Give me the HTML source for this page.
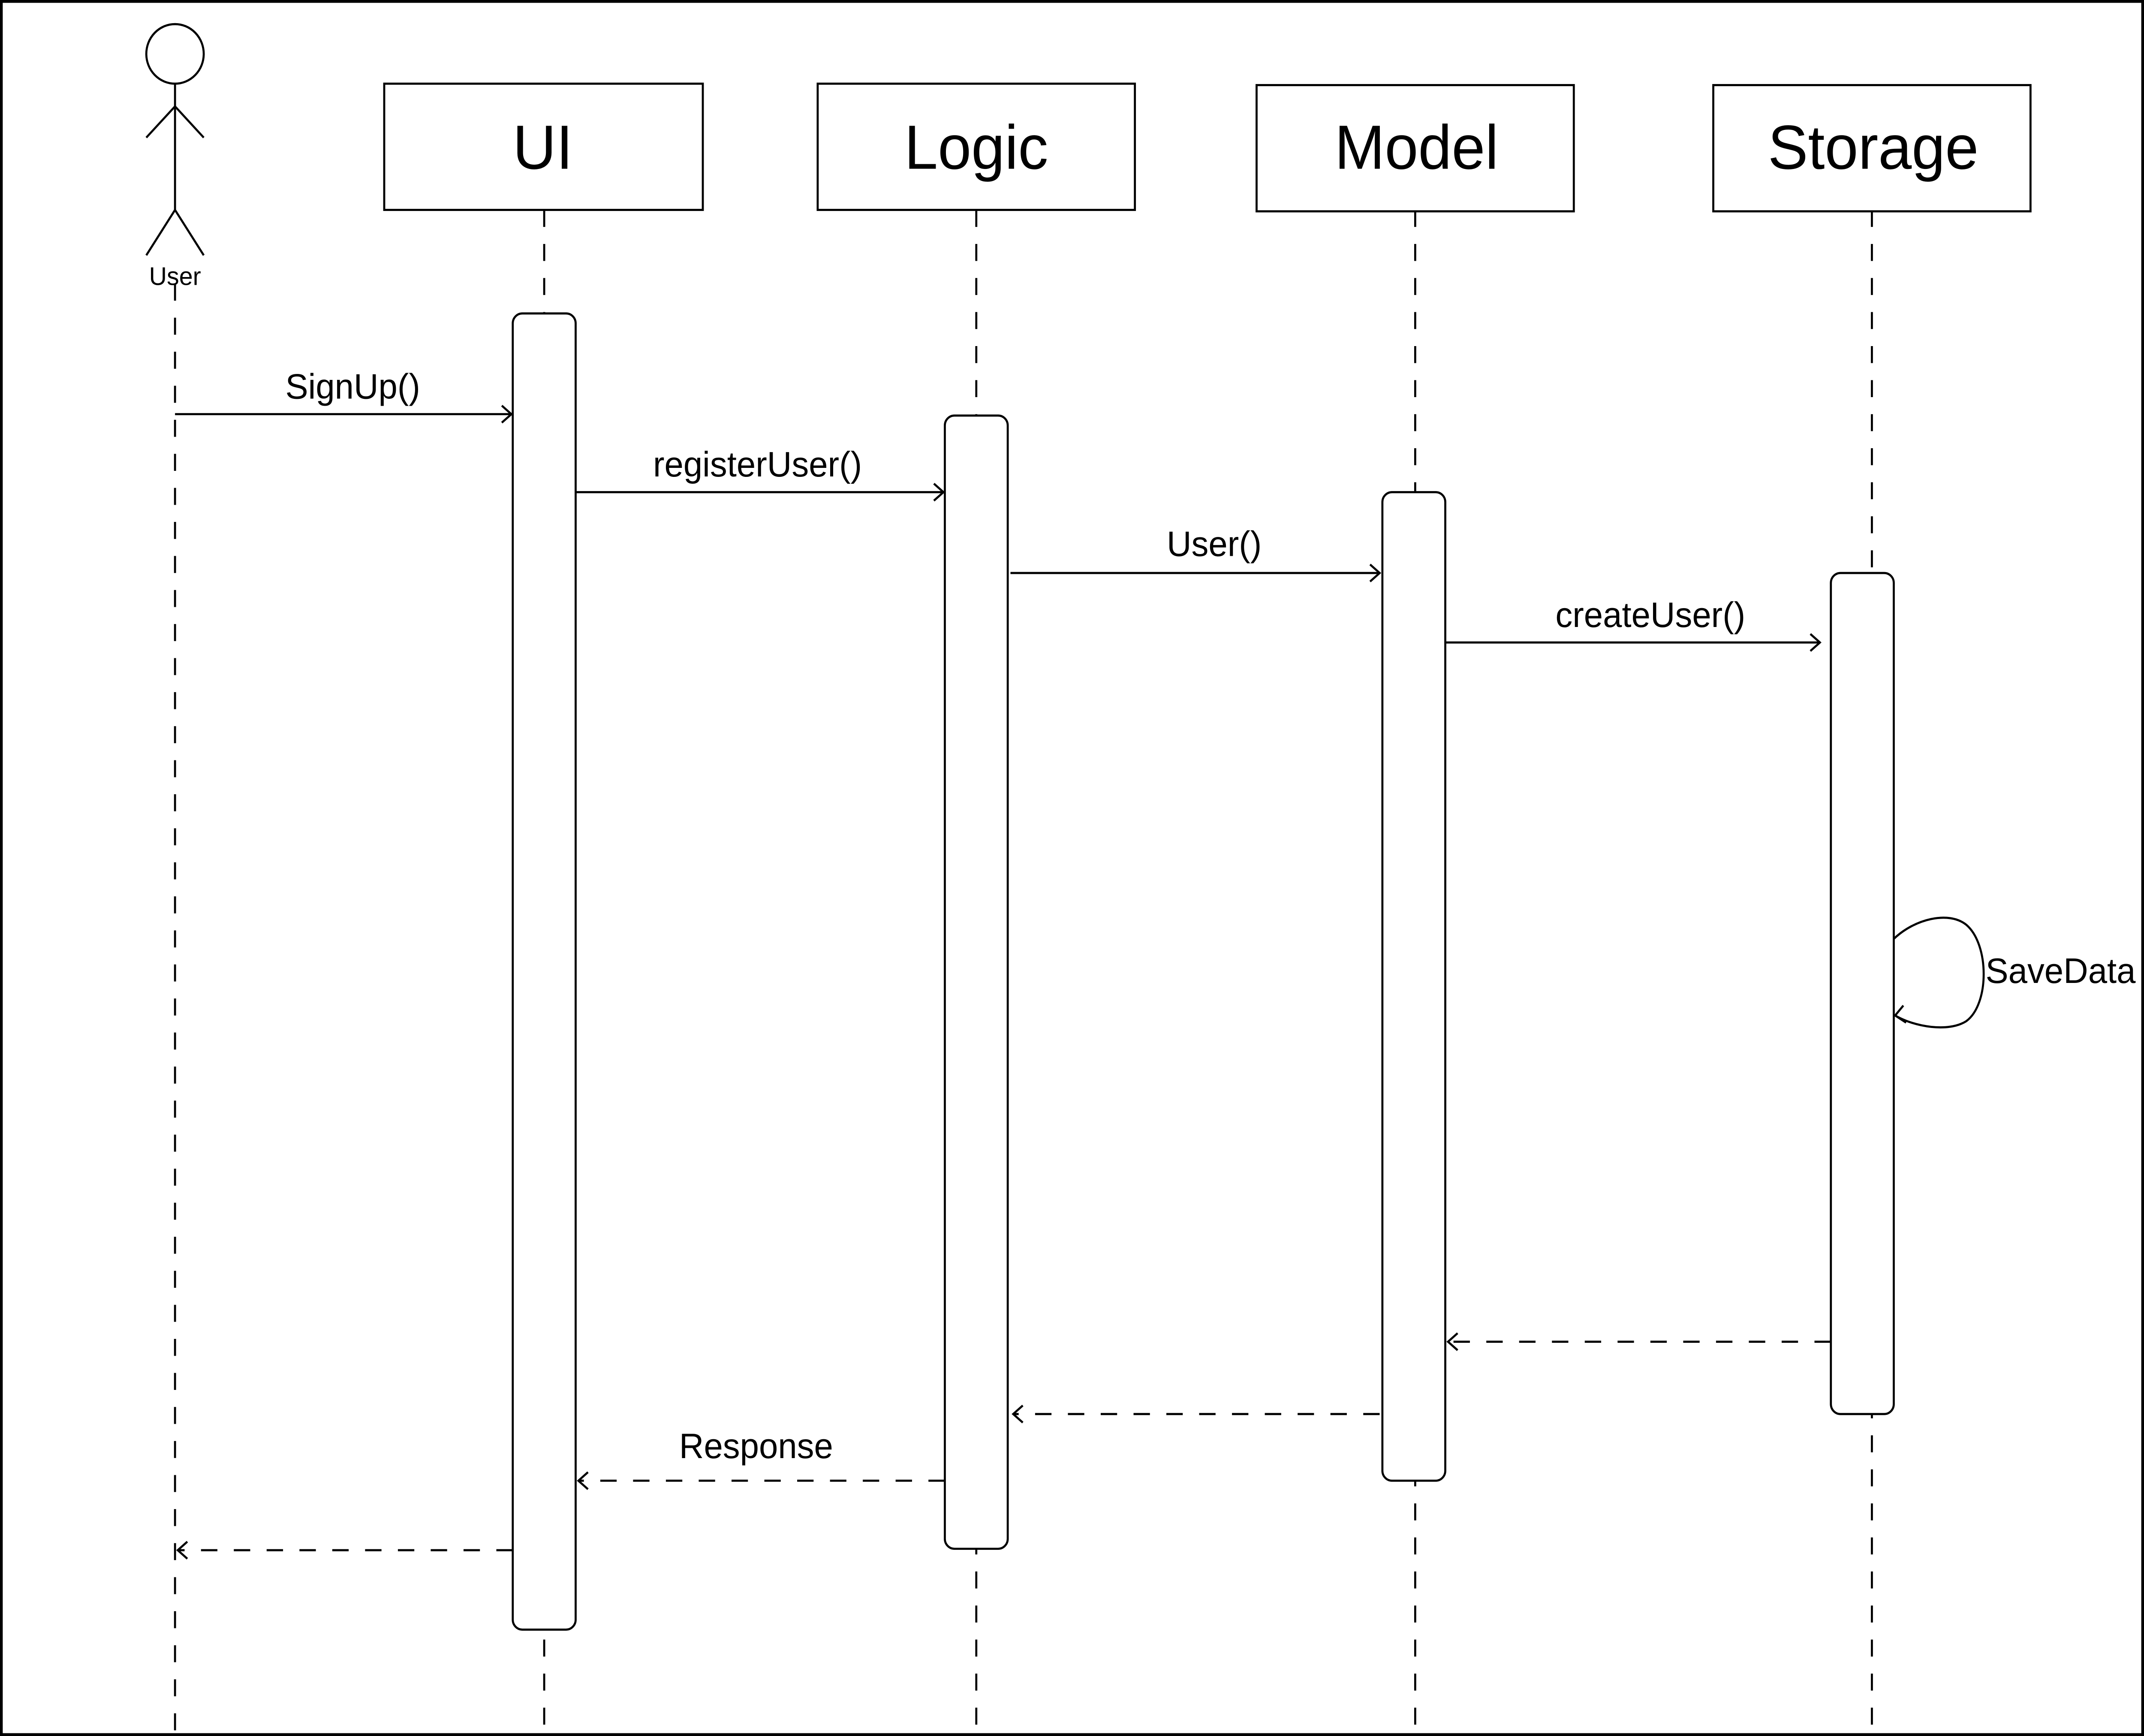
<!DOCTYPE html>
<html><head><meta charset="utf-8">
<style>html,body{margin:0;padding:0;background:#fff;overflow:hidden;width:100%;height:100%}svg{display:block;width:100vw;height:100vh}</style>
</head><body>
<svg viewBox="0 0 1568 1224" preserveAspectRatio="none" xmlns="http://www.w3.org/2000/svg" font-family="Liberation Sans, Arial, sans-serif">
<rect x="0" y="0" width="1568" height="1224" fill="#fff"/>
<rect x="1" y="1" width="1566" height="1222" fill="none" stroke="#000" stroke-width="2"/>
<g stroke="#000" stroke-width="1.5" fill="none">
<circle cx="128" cy="38" r="21" fill="#fff"/>
<line x1="128" y1="59" x2="128" y2="148"/>
<line x1="128" y1="75" x2="107" y2="97"/>
<line x1="128" y1="75" x2="149" y2="97"/>
<line x1="128" y1="148" x2="107" y2="180"/>
<line x1="128" y1="148" x2="149" y2="180"/>
<g stroke-dasharray="12 12">
<line x1="128" y1="200" x2="128" y2="1224"/>
<line x1="398" y1="148" x2="398" y2="1224"/>
<line x1="714" y1="148" x2="714" y2="1224"/>
<line x1="1035" y1="148" x2="1035" y2="1224"/>
<line x1="1369" y1="148" x2="1369" y2="1224"/>
</g>
<rect x="281" y="59" width="233" height="89" fill="#fff"/>
<rect x="598" y="59" width="232" height="89" fill="#fff"/>
<rect x="919" y="60" width="232" height="89" fill="#fff"/>
<rect x="1253" y="60" width="232" height="89" fill="#fff"/>
<rect x="375" y="221" width="46" height="928" rx="7" fill="#fff"/>
<rect x="691" y="293" width="46" height="799" rx="7" fill="#fff"/>
<rect x="1011" y="347" width="46" height="697" rx="7" fill="#fff"/>
<rect x="1339" y="404" width="46" height="593" rx="7" fill="#fff"/>
<line x1="128" y1="292" x2="374" y2="292"/><polyline points="367,286 374,292 367,298"/>
<line x1="421" y1="347" x2="690" y2="347"/><polyline points="683,341 690,347 683,353"/>
<line x1="739" y1="404" x2="1009" y2="404"/><polyline points="1002,398 1009,404 1002,410"/>
<line x1="1057" y1="453" x2="1331" y2="453"/><polyline points="1324,447 1331,453 1324,459"/>
<path d="M1385,662 C1400,648 1425,642 1438,652 C1455,666 1455,708 1438,720 C1425,728 1400,724 1386,716"/>
<polyline points="1392,709 1386,716 1394,721"/>
<g stroke-dasharray="12 12">
<line x1="1339" y1="946" x2="1059" y2="946"/>
<line x1="1009" y1="997" x2="741" y2="997"/>
<line x1="691" y1="1044" x2="423" y2="1044"/>
<line x1="375" y1="1093" x2="130" y2="1093"/>
</g>
<polyline points="1066,940 1059,946 1066,952"/>
<polyline points="748,991 741,997 748,1003"/>
<polyline points="430,1038 423,1044 430,1050"/>
<polyline points="137,1087 130,1093 137,1099"/>
</g>
<g fill="#000" text-anchor="middle">
<text x="128" y="201" font-size="18">User</text>
<text x="397" y="119" font-size="44">UI</text>
<text x="714" y="119" font-size="44">Logic</text>
<text x="1036" y="119" font-size="44">Model</text>
<text x="1370" y="119" font-size="44">Storage</text>
<text x="258" y="281" font-size="25">SignUp()</text>
<text x="554" y="336" font-size="25">registerUser()</text>
<text x="888" y="392" font-size="25">User()</text>
<text x="1207" y="442" font-size="25">createUser()</text>
<text x="1507" y="693" font-size="25">SaveData</text>
<text x="553" y="1028" font-size="25">Response</text>
</g>
</svg>
</body></html>
